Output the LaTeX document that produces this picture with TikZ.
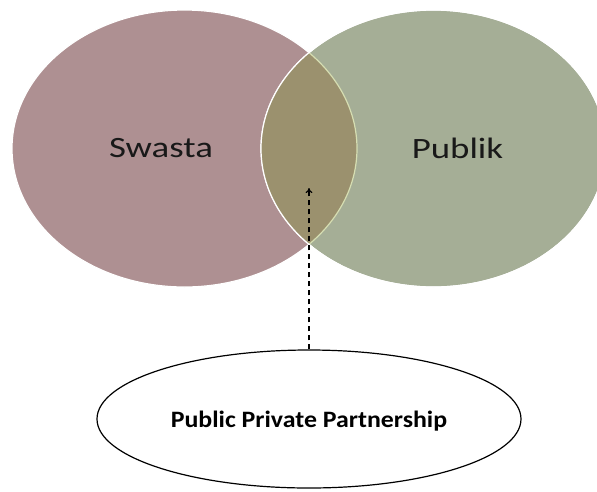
\documentclass[tikz,border=0pt]{standalone}
\usepackage{fontspec}
\setmainfont{Carlito}
\usetikzlibrary{arrows.meta,shapes.geometric}

\definecolor{swastafill}{RGB}{174,144,146}
\definecolor{publikfill}{RGB}{165,174,150}
\definecolor{lensfill}{RGB}{155,145,110}
\definecolor{lensedge}{RGB}{214,222,178}
\newcommand{\widetext}[2][1.25]{\scalebox{#1}[1]{#2}}

\begin{document}
\begin{tikzpicture}[x=1pt, y=-1pt]
\tikzstyle{circ} = [ellipse, draw=white, line width=1.2pt, inner sep=0pt, minimum width=345pt, minimum height=277pt]
\tikzstyle{word} = [font=\fontsize{29.5}{32}\selectfont, text=black!90]
\tikzstyle{arrow} = [-{To[length=1.8mm, width=2.4mm]}, dashed, dash pattern=on 5pt off 4pt, line width=1.2pt]
\useasboundingbox (0,0) rectangle (597,491);
\clip (0,0) rectangle (597,491);
\node[circ, fill=swastafill] (swasta) at (184.5,148.5) {};
\node[circ, fill=publikfill] (publik) at (433.5,148.5) {};
\begin{scope}
\clip (publik.center) ellipse [x radius=172.5pt, y radius=138.5pt];
\fill[lensfill] (swasta.center) ellipse [x radius=172.5pt, y radius=138.5pt];
\draw[lensedge, line width=1.2pt] (swasta.center) ellipse [x radius=172.5pt, y radius=138.5pt];
\end{scope}
\draw[white, line width=1.2pt] (publik.center) ellipse [x radius=172.5pt, y radius=138.5pt];
\node[word] (swastatext) at (161,148) {\widetext{Swasta}};
\node[word] (publiktext) at (457.5,148) {\widetext{Publik}};
\node[ellipse, draw=black, line width=1.2pt, fill=white, inner sep=0pt, text depth=0pt, minimum width=424pt, minimum height=138pt, font=\bfseries\fontsize{23.5}{26}\selectfont] (ppp) at (309,419) {\widetext[1.1]{Public Private Partnership}};
\coordinate (lenstip) at (309,188);
\draw[arrow] (ppp) -- (lenstip);
\end{tikzpicture}
\end{document}
